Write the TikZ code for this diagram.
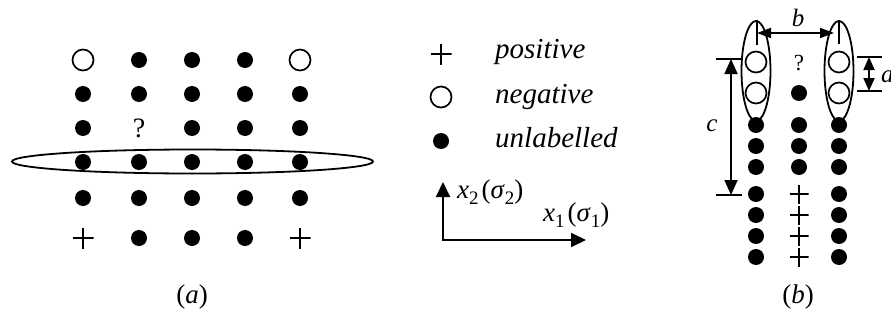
\documentclass[tikz,border=0pt]{standalone}
\usepackage{fontspec}
\setmainfont{Liberation Serif}
\usetikzlibrary{arrows.meta,shapes.geometric}
\newcommand\mysub[1]{\raisebox{-0.25em}{\fontsize{19}{19}\selectfont #1}}
\begin{document}
\begin{tikzpicture}[x=1pt,y=-1pt,
  dot/.style={circle,fill=black,inner sep=0pt,minimum size=16pt},
  ocirc/.style={circle,draw=black,line width=1.7pt,inner sep=0pt,minimum size=21pt},
  plusmark/.style={rectangle,inner sep=0pt,minimum size=21pt,
    path picture={\draw[line width=1.8pt]
      (path picture bounding box.north) -- (path picture bounding box.south)
      (path picture bounding box.west) -- (path picture bounding box.east);}},
  qmark/.style={inner sep=0pt,font=\fontsize{28}{30}\selectfont},
  qmarkb/.style={inner sep=0pt,font=\fontsize{23}{25}\selectfont},
  legtext/.style={inner sep=0pt,anchor=base west,font=\fontsize{29}{32}\selectfont\itshape},
  axtext/.style={inner sep=0pt,anchor=base west,font=\fontsize{27}{30}\selectfont},
  captext/.style={inner sep=0pt,font=\fontsize{27}{30}\selectfont},
  dimtext/.style={inner sep=0pt,anchor=base,font=\fontsize{25}{28}\selectfont\itshape},
  linew/.style={line width=1.8pt},
  axarrow/.style={line width=2pt,{Triangle[length=15pt,width=14pt]}-{Triangle[length=15pt,width=14pt]}},
  dimarrow/.style={line width=1.8pt,{Triangle[length=15pt,width=13pt]}-{Triangle[length=15pt,width=13pt]}},
  smallarrow/.style={line width=1.8pt,{Triangle[length=13pt,width=11pt]}-{Triangle[length=13pt,width=11pt]}},
  barrow/.style={line width=1.8pt,{Triangle[length=14pt,width=10pt]}-{Triangle[length=14pt,width=10pt]}}
]
\useasboundingbox (0,0) rectangle (891,324);
\clip (0,0) rectangle (891,324);

% ---------- panel (a) ----------
\node[ellipse,draw=black,linew,inner sep=0pt,minimum width=361pt,minimum height=24pt] (band) at (192.5,161.5) {};

\foreach \c/\x in {1/83,2/139,3/192,4/245,5/300}{
  \foreach \r/\y in {2/94,4/162,5/198}{
    \node[dot] (a\r\c) at (\x,\y) {};
  }
}
\node[ocirc] (a11) at (83,60) {};
\node[dot]   (a12) at (139,60) {};
\node[dot]   (a13) at (192,60) {};
\node[dot]   (a14) at (245,60) {};
\node[ocirc] (a15) at (300,60) {};

\node[dot]   (a31) at (83,128) {};
\node[qmark] (a32) at (139,128) {?};
\node[dot]   (a33) at (192,128) {};
\node[dot]   (a34) at (245,128) {};
\node[dot]   (a35) at (300,128) {};

\node[plusmark] (a61) at (83,238) {};
\node[dot]      (a62) at (139,238) {};
\node[dot]      (a63) at (192,238) {};
\node[dot]      (a64) at (245,238) {};
\node[plusmark] (a65) at (300,238) {};

\node[captext] (capa) at (192,297) {(\textit{a})};

% ---------- legend ----------
\node[plusmark] (lp) at (441,54) {};
\node[ocirc]    (ln) at (441,97) {};
\node[dot]      (lu) at (441,141) {};
\node[legtext]  (tp) at (495,58) {positive};
\node[legtext]  (tn) at (495,103) {negative};
\node[legtext]  (tu) at (495,147) {unlabelled};

\coordinate (Y) at (443,182);
\coordinate (O) at (443,240);
\coordinate (X) at (586,240);
\draw[axarrow] (Y) -- (O) -- (X);
\node[axtext] (x2lab) at (457,198) {\textit{x}\mysub{2}\hspace{3pt}(\textit{σ}\mysub{2})};
\node[axtext] (x1lab) at (543,221) {\textit{x}\mysub{1}\hspace{3pt}(\textit{σ}\mysub{1})};

% ---------- panel (b) ----------
\node[ellipse,draw=black,linew,inner sep=0pt,minimum width=29pt,minimum height=100pt] (eL) at (756,71) {};
\node[ellipse,draw=black,linew,inner sep=0pt,minimum width=29pt,minimum height=100pt] (eR) at (839,71) {};

\foreach \x/\n in {756/L,839/R}{
  \node[ocirc] (b\n1) at (\x,62) {};
  \node[ocirc] (b\n2) at (\x,93) {};
  \foreach \y [count=\k from 3] in {125,146,167,194,215,236,257}{
    \node[dot] (b\n\k) at (\x,\y) {};
  }
}
\node[qmarkb] (bM1) at (799,63) {?};
\node[dot] (bM2) at (799,93) {};
\foreach \y [count=\k from 3] in {125,146,167}{
  \node[dot] (bM\k) at (799,\y) {};
}
\foreach \y [count=\k from 6] in {194,215,236,257}{
  \node[plusmark,minimum size=19pt] (bM\k) at (799,\y) {};
}

% b dimension
\coordinate (tLt) at (757,20);
\coordinate (tLb) at (757,45);
\coordinate (tRt) at (839,20);
\coordinate (tRb) at (839,44);
\draw[linew] (tLt) -- (tLb);
\draw[linew] (tRt) -- (tRb);
\coordinate (bl) at (757,33);
\coordinate (br) at (834,33);
\draw[barrow] (bl) -- (br);
\node[dimtext] (blab) at (798,26) {b};

% c dimension
\coordinate (c1a) at (716,59);
\coordinate (c1b) at (741,59);
\coordinate (c2a) at (716,195);
\coordinate (c2b) at (742,195);
\draw[linew] (c1a) -- (c1b);
\draw[linew] (c2a) -- (c2b);
\coordinate (ct) at (731,59);
\coordinate (cb) at (731,195);
\draw[dimarrow] (ct) -- (cb);
\node[dimtext] (clab) at (712,131) {c};

% a dimension
\coordinate (d1a) at (857,57);
\coordinate (d1b) at (882,57);
\coordinate (d2a) at (857,91);
\coordinate (d2b) at (882,91);
\draw[linew] (d1a) -- (d1b);
\draw[linew] (d2a) -- (d2b);
\coordinate (dt) at (869,57);
\coordinate (db) at (869,91);
\draw[smallarrow] (dt) -- (db);
\node[dimtext,anchor=base west] (alab) at (881,82) {a};

\node[captext] (capb) at (798,297) {(\textit{b})};
\end{tikzpicture}
\end{document}
